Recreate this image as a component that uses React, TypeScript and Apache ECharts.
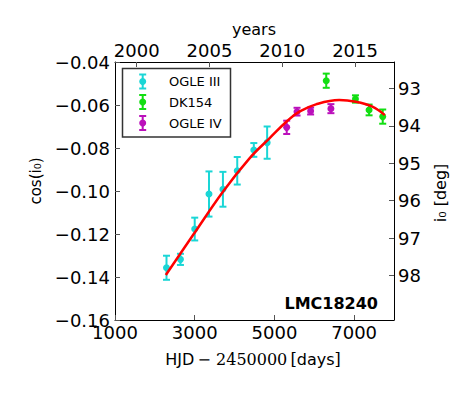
import React, { useEffect, useRef } from "react";
import * as echarts from "echarts";

// ---- data ----
const ogle3X = [2292, 2642, 3000, 3358, 3708, 4067, 4483, 4817];
const ogle3Y = [-0.1357, -0.1318, -0.1177, -0.1014, -0.0992, -0.0906, -0.0809, -0.0775];
const ogle3Err = [0.0056, 0.0026, 0.0053, 0.0105, 0.0081, 0.0064, 0.0032, 0.0075];

const dk154X = [6300, 7033, 7375, 7717];
const dk154Y = [-0.0487, -0.0572, -0.0623, -0.0654];
const dk154Err = [0.0033, 0.0017, 0.0025, 0.0033];

const ogle4X = [5308, 5567, 5908, 6417];
const ogle4Y = [-0.0704, -0.0631, -0.0628, -0.0617];
const ogle4Err = [0.0031, 0.0018, 0.0016, 0.0021];

const fitX = [2275, 2958, 3708, 4375, 4875, 5333, 5625, 6042, 6625, 7042, 7458, 7770];
const fitY = [-0.1391, -0.1205, -0.1003, -0.0848, -0.0755, -0.0672, -0.0631, -0.0597, -0.0577, -0.0585, -0.0608, -0.0647];

const bottomTicks = [1000, 3000, 5000, 7000];
const yearTicks = [2000, 2005, 2010, 2015];
const degTicks = [93, 94, 95, 96, 97, 98];

const seriesNames = ["OGLE III", "DK154", "OGLE IV"];
const seriesColors = ["#1ad6d6", "#12de12", "#bb10bb"];
const fitColor = "#ff0000";
const objectName = "LMC18240";

const X_MIN = 1000;
const X_MAX = 8000;
const Y_MIN = -0.16;
const Y_MAX = -0.04;
// HJD - 2450000 -> calendar year
const toYear = (h: number) => 2000 + (h - 1544.5) / 365.25;

const FONT = "DejaVu Sans";

function errSeries(name: string, color: string, xs: number[], ys: number[], es: number[]) {
  return {
    type: "custom",
    name,
    xAxisIndex: 0,
    yAxisIndex: 0,
    z: 2,
    data: xs.map((x, i) => [x, ys[i], es[i]]),
    renderItem: (params: any, api: any) => {
      const x = api.value(0);
      const y = api.value(1);
      const e = api.value(2);
      const top = api.coord([x, y + e]);
      const bot = api.coord([x, y - e]);
      const cap = 3.5;
      const st = { stroke: color, lineWidth: 2 };
      return {
        type: "group",
        children: [
          { type: "line", shape: { x1: top[0], y1: top[1], x2: bot[0], y2: bot[1] }, style: st },
          { type: "line", shape: { x1: top[0] - cap, y1: top[1], x2: top[0] + cap, y2: top[1] }, style: st },
          { type: "line", shape: { x1: bot[0] - cap, y1: bot[1], x2: bot[0] + cap, y2: bot[1] }, style: st },
        ],
      };
    },
  };
}

function pointSeries(name: string, color: string, xs: number[], ys: number[]) {
  return {
    type: "scatter",
    name,
    xAxisIndex: 0,
    yAxisIndex: 0,
    z: 3,
    symbol: "circle",
    symbolSize: 7,
    itemStyle: { color, opacity: 1 },
    data: xs.map((x, i) => [x, ys[i]]),
  };
}

function legendEntry(i: number, y: number) {
  const c = seriesColors[i];
  const mx = 142.7;
  const st = { stroke: c, lineWidth: 2 };
  return {
    type: "group",
    children: [
      { type: "line", shape: { x1: mx, y1: y - 7, x2: mx, y2: y + 7 }, style: st, z: 101 },
      { type: "line", shape: { x1: mx - 3.5, y1: y - 7, x2: mx + 3.5, y2: y - 7 }, style: st, z: 101 },
      { type: "line", shape: { x1: mx - 3.5, y1: y + 7, x2: mx + 3.5, y2: y + 7 }, style: st, z: 101 },
      { type: "circle", shape: { cx: mx, cy: y, r: 3.5 }, style: { fill: c }, z: 102 },
      {
        type: "text",
        x: 169,
        y: y,
        z: 102,
        style: { text: seriesNames[i], fontFamily: FONT, fontSize: 13, fill: "#000", verticalAlign: "middle", align: "left" },
      },
    ],
  };
}

export default function App() {
  const ref = useRef<HTMLDivElement>(null);

  useEffect(() => {
    if (!ref.current) return;
    const chart = echarts.init(ref.current, undefined, { renderer: "svg" });
    const axisLine = { show: true, lineStyle: { color: "#000", width: 1 } };
    const labelBase = { fontFamily: FONT, fontSize: 18, color: "#000" };
    const fmtCos = (v: number) => (v < 0 ? "\u2212" : "") + Math.abs(v).toFixed(2);

    const option: any = {
      animation: false,
      backgroundColor: "#fff",
      textStyle: { fontFamily: FONT },
      grid: { left: 115, right: 80, top: 62, bottom: 75, containLabel: false, outerBoundsMode: "none" },
      xAxis: [
        {
          type: "value",
          position: "bottom",
          min: X_MIN,
          max: X_MAX,
          axisLine,
          splitLine: { show: false },
          axisTick: { show: true, inside: true, length: 5, customValues: bottomTicks, lineStyle: { color: "#555" } },
          axisLabel: { ...labelBase, margin: 3, customValues: bottomTicks, formatter: (v: number) => String(v) },
        },
        {
          type: "value",
          position: "top",
          min: toYear(X_MIN),
          max: toYear(X_MAX),
          axisLine,
          splitLine: { show: false },
          axisTick: { show: true, inside: true, length: 5, customValues: yearTicks, lineStyle: { color: "#555" } },
          axisLabel: { ...labelBase, margin: 3, customValues: yearTicks, formatter: (v: number) => String(Math.round(v)) },
        },
      ],
      yAxis: [
        {
          type: "value",
          position: "left",
          min: Y_MIN,
          max: Y_MAX,
          interval: 0.02,
          axisLine,
          splitLine: { show: false },
          axisTick: { show: true, inside: true, length: 5, lineStyle: { color: "#555" } },
          axisLabel: { ...labelBase, margin: 5, showMinLabel: true, showMaxLabel: true, formatter: fmtCos },
        },
        {
          type: "value",
          position: "right",
          min: Y_MIN,
          max: Y_MAX,
          axisLine,
          splitLine: { show: false },
          axisTick: {
            show: true,
            inside: true,
            length: 5,
            customValues: degTicks.map((d) => Math.cos((d * Math.PI) / 180)),
            lineStyle: { color: "#555" },
          },
          axisLabel: {
            ...labelBase,
            margin: 4,
            customValues: degTicks.map((d) => Math.cos((d * Math.PI) / 180)),
            formatter: (v: number) => String(Math.round((Math.acos(v) * 180) / Math.PI)),
          },
        },
      ],
      series: [
        errSeries(seriesNames[0], seriesColors[0], ogle3X, ogle3Y, ogle3Err),
        pointSeries(seriesNames[0], seriesColors[0], ogle3X, ogle3Y),
        errSeries(seriesNames[1], seriesColors[1], dk154X, dk154Y, dk154Err),
        pointSeries(seriesNames[1], seriesColors[1], dk154X, dk154Y),
        errSeries(seriesNames[2], seriesColors[2], ogle4X, ogle4Y, ogle4Err),
        pointSeries(seriesNames[2], seriesColors[2], ogle4X, ogle4Y),
        {
          type: "line",
          name: "fit",
          xAxisIndex: 0,
          yAxisIndex: 0,
          z: 5,
          smooth: 0.4,
          showSymbol: false,
          symbol: "none",
          lineStyle: { color: fitColor, width: 2.5 },
          data: fitX.map((x, i) => [x, fitY[i]]),
        },
      ],
      graphic: [
        {
          type: "rect",
          z: 100,
          shape: { x: 122.5, y: 68.5, width: 108, height: 68.5 },
          style: { fill: "#fff", stroke: "#333", lineWidth: 1.5 },
        },
        legendEntry(0, 81.5),
        legendEntry(1, 102),
        legendEntry(2, 123),
        {
          type: "text",
          x: 378,
          y: 303,
          z: 100,
          style: { text: objectName, fontFamily: FONT, fontWeight: "bold", fontSize: 16, fill: "#000", align: "right", verticalAlign: "middle" },
        },
        {
          type: "text",
          x: 254,
          y: 29,
          style: { text: "years", fontFamily: FONT, fontSize: 16, fill: "#000", align: "center", verticalAlign: "middle" },
        },
        {
          type: "text",
          x: 253,
          y: 359,
          style: {
            text: "{a|HJD} {b|\u2212 2450000} {b|[}{a|days}{b|]}",
            align: "center",
            verticalAlign: "middle",
            rich: {
              a: { fontFamily: FONT, fontSize: 16, fill: "#000" },
              b: { fontFamily: "DejaVu Serif", fontSize: 16, fill: "#000" },
            },
          },
        },
        {
          type: "text",
          x: 36,
          y: 181,
          rotation: Math.PI / 2,
          style: { text: "cos(i\u2080)", fontFamily: FONT, fontSize: 15, fill: "#000", align: "center", verticalAlign: "middle" },
        },
        {
          type: "text",
          x: 440,
          y: 193,
          rotation: Math.PI / 2,
          style: { text: "i\u2080 [deg]", fontFamily: FONT, fontSize: 16, fill: "#000", align: "center", verticalAlign: "middle" },
        },
      ],
    };
    chart.setOption(option);
    return () => chart.dispose();
  }, []);

  return <div ref={ref} style={{ position: "fixed", left: 0, top: 0, width: 474, height: 395 }} />;
}
